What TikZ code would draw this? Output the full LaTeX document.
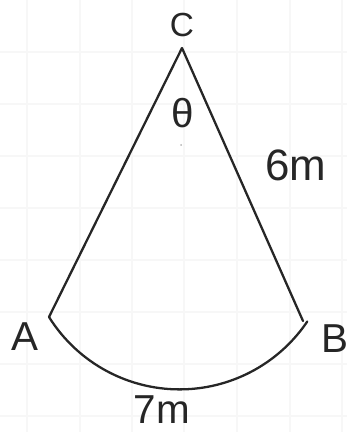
\documentclass[tikz,border=0pt]{standalone}
\usepackage{fontspec}
\setmainfont{Liberation Sans}
\tikzset{
  gridline/.style={draw=gray!6,line width=0.6pt},
  edge/.style={line width=1.3pt,line cap=round,line join=round,black!85},
  lbl/.style={inner sep=0pt,font=\fontsize{23}{26}\selectfont,black!85}
}
\begin{document}
\begin{tikzpicture}[x=0.02cm,y=-0.02cm]
\useasboundingbox (0,0) rectangle (347,432);
% paper grid
\foreach \gx in {27,80,132,184,237,290,342}
  \draw[gridline] (\gx,0) -- (\gx,432);
\foreach \gy in {52,104,156,208,260,312,364,416}
  \draw[gridline] (0,\gy) -- (347,\gy);
% coordinates
\coordinate (C)   at (182, 48);
\coordinate (A)   at ( 49,317);
\coordinate (B)   at (303,321);
\coordinate (Aa)  at ( 49,317);
\coordinate (Bb)  at (308,317);
\coordinate (mid) at (180,235);
% sector
\draw[edge] (A) -- (C) -- (B);
\draw[edge] (Aa) arc[start angle=148,end angle=34,radius=154];
\fill[gray!60] (181,145) circle (1);
% labels
\node[lbl,font=\fontsize{19}{22}\selectfont] (labC)     at (182, 25) {C};
\node[lbl]                                   (labtheta) at (183,113) {θ};
\node[lbl,font=\fontsize{25}{28}\selectfont] (labCB)    at (296,165) {6m};
\node[lbl]                                   (labA)     at ( 25,337) {A};
\node[lbl]                                   (labB)     at (335,339) {B};
\node[lbl]                                   (labAB)    at (162,410) {7m};
\end{tikzpicture}
\end{document}
